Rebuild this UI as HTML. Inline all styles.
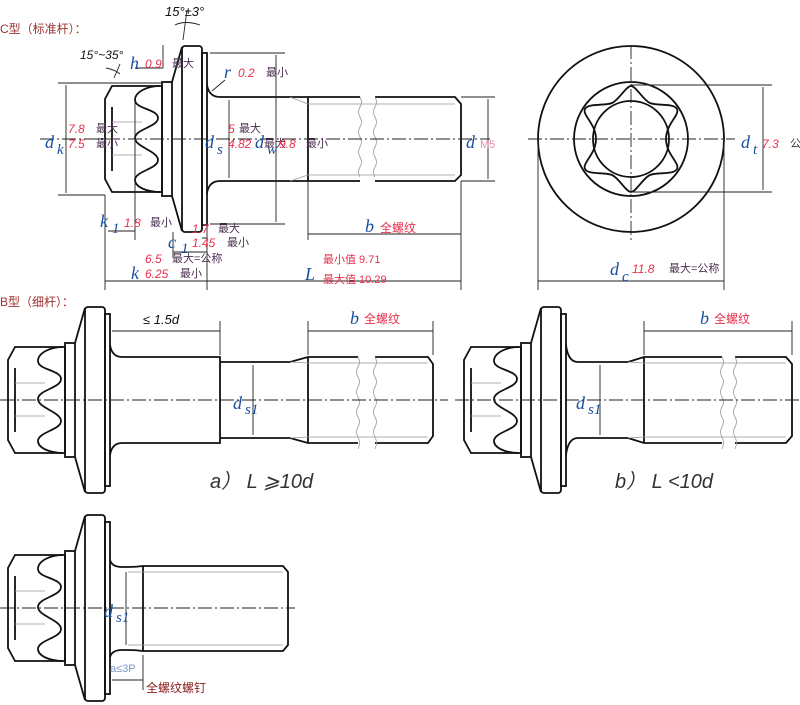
<!DOCTYPE html>
<html><head><meta charset="utf-8"><style>
html,body{margin:0;padding:0;background:#fff;}
svg{display:block;}
.o{fill:none;stroke:#111;stroke-width:1.8;}
.t{fill:none;stroke:#222;stroke-width:0.9;}
.g{fill:none;stroke:#999;stroke-width:0.8;}
.c{fill:none;stroke:#222;stroke-width:0.9;stroke-dasharray:14 3 2 3;}
.bl{font-family:"Liberation Serif",serif;font-style:italic;fill:#1a4fa0;font-size:18px;}
.sb{font-family:"Liberation Serif",serif;font-style:italic;fill:#1a4fa0;font-size:15px;}
.rd{font-family:"Liberation Sans",sans-serif;font-style:italic;fill:#e8304c;font-size:12px;}
.cn{font-family:"Liberation Sans","Noto Sans CJK SC",sans-serif;fill:#4a3050;font-size:11px;}
.cr{font-family:"Liberation Sans","Noto Sans CJK SC",sans-serif;fill:#e8304c;font-size:12px;}
.bk{font-family:"Liberation Sans",sans-serif;font-style:italic;fill:#111;font-size:13px;}
</style></head><body>
<svg width="800" height="705" viewBox="0 0 800 705" xmlns="http://www.w3.org/2000/svg">
<defs>
<g id="head">
<path class="o" d="M-70,-53 L-20,-53 L-20,53 L-70,53 L-77,40 L-77,-40 Z"/>
<rect class="o" x="-20" y="-57" width="10" height="114"/>
<path class="o" d="M-10,-57 L0,-92 M-10,57 L0,92"/>
<rect class="o" x="0" y="-93" width="20" height="186" rx="3"/>
<rect class="o" x="20" y="-86" width="5" height="172"/>
<path class="o" d="M-22,-53 C-35,-53 -47,-47 -47,-39 C-47,-30 -24,-30 -24,-21 C-24,-12 -47,-10 -47,-1 C-47,8 -24,12 -24,21 C-24,30 -47,32 -47,41 C-47,48 -35,53 -22,53"/>
<path class="o" d="M-70,-32 L-70,32"/>
<path class="g" d="M-70,-17 L-40,-17 M-70,16 L-40,16"/>
</g>
</defs>

<text x="0" y="33" style="font-family:'Liberation Sans','Noto Sans CJK SC',sans-serif;font-size:12px;fill:#a03030">C型（标准杆）：</text>
<use href="#head" x="182" y="139"/>
<path class="o" d="M207,85 Q209,97 220,97 L360,97 M375,97 L455,97 L461,104 L461,175 L455,181 L375,181 M360,181 L220,181 Q209,181 207,193"/>
<path class="o" d="M308,97 L308,181"/>
<path class="g" d="M360,97 q3,5 0,10 q-3,5 0,10 q3,5 0,10 q-3,5 0,10 q3,5 0,10 q-3,5 0,10 q3,5 0,10 q-3,5 0,10 M375,97 q3,5 0,10 q-3,5 0,10 q3,5 0,10 q-3,5 0,10 q3,5 0,10 q-3,5 0,10 q3,5 0,10 q-3,5 0,10"/>
<path class="g" d="M308,104 L455,104 M308,175 L455,175 M290,97 L308,104 M290,181 L308,175"/>
<path class="c" d="M40,139 L490,139"/>
<path class="t" d="M58,83 L163,83 M58,195 L105,195 M66,85 L66,193"/>
<path class="t" d="M210,53 L285,53 M210,224 L285,224 M276,55 L276,222"/>
<path class="t" d="M229,100 L229,178"/>
<path class="t" d="M461,97 L495,97 M461,181 L495,181 M488,99 L488,179"/>
<path class="t" d="M105,195 L105,290 M207,195 L207,290 M308,181 L308,240 M461,181 L461,290 M135,100 L135,240"/>
<path class="t" d="M105,281 L461,281 M308,234 L461,234 M108,231 L135,231 M135,68 L163,68 M163,68 L163,45 M173,232 L173,258 M202,238 L207,238 M225,80 L212,91"/>
<path class="t" d="M173,252 L207,252"/>
<path class="t" d="M120,64 L114,78 M106,68 Q116,70 120,74 M183,40 L187,10 M175,25 Q185,20 200,25"/>
<text x="80" y="59" class="bk" style="font-size:12px">15°~35°</text>
<text x="165" y="16" class="bk">15°±3°</text>
<text x="130" y="69" class="bl">h</text><text x="145" y="68" class="rd">0.9</text><text x="172" y="67" class="cn">最大</text>
<text x="224" y="78" class="bl">r</text><text x="238" y="77" class="rd">0.2</text><text x="266" y="76" class="cn">最小</text>
<text x="45" y="148" class="bl">d</text><text x="57" y="154" class="sb">k</text>
<text x="68" y="133" class="rd">7.8</text><text x="96" y="132" class="cn">最大</text>
<text x="68" y="148" class="rd">7.5</text><text x="96" y="147" class="cn">最小</text>
<text x="205" y="148" class="bl">d</text><text x="217" y="154" class="sb">s</text>
<text x="228" y="133" class="rd">5</text><text x="239" y="132" class="cn">最大</text>
<text x="228" y="148" class="rd">4.82</text>
<text x="255" y="148" class="bl">d</text><text x="267" y="154" class="sb">w</text>
<text x="264" y="147" class="cn">最大</text><text x="279" y="148" class="rd">9.8</text><text x="306" y="147" class="cn">最小</text>
<text x="466" y="148" class="bl">d</text><text x="480" y="148" style="font-family:'Liberation Sans',sans-serif;font-size:11px;fill:#e88ca0">M5</text>
<text x="100" y="227" class="bl">k</text><text x="112" y="233" class="sb">1</text><text x="124" y="227" class="rd">1.8</text><text x="150" y="226" class="cn">最小</text>
<text x="192" y="233" class="rd">1.7</text><text x="218" y="232" class="cn">最大</text>
<text x="168" y="248" class="bl">c</text><text x="181" y="253" class="sb">1</text><text x="192" y="247" class="rd">1.45</text><text x="227" y="246" class="cn">最小</text>
<text x="145" y="263" class="rd">6.5</text><text x="172" y="262" class="cn">最大=公称</text>
<text x="131" y="279" class="bl">k</text><text x="145" y="278" class="rd">6.25</text><text x="180" y="277" class="cn">最小</text>
<text x="305" y="280" class="bl">L</text>
<text x="323" y="263" class="cr" style="font-size:11px">最小值 9.71</text>
<text x="323" y="283" class="cr" style="font-size:11px">最大值 10.29</text>
<text x="365" y="232" class="bl">b</text><text x="380" y="232" class="cr">全螺纹</text>

<circle class="o" cx="631" cy="139" r="93"/>
<circle class="o" cx="631" cy="139" r="57"/>
<circle class="o" cx="631" cy="139" r="38"/>
<path class="o" d="M631,86 C636,86 643,100 650,103 C657,106 674,103 677,109 C680,115 666,124 666,139 C666,154 680,163 677,169 C674,175 657,172 650,175 C643,178 636,192 631,192 C626,192 619,178 612,175 C605,172 588,175 585,169 C582,163 596,154 596,139 C596,124 582,115 585,109 C588,103 605,106 612,103 C619,100 626,86 631,86 Z"/>
<path class="c" d="M528,139 L735,139 M631,45 L631,240"/>
<path class="t" d="M631,85 L772,85 M631,192 L772,192 M763,87 L763,190"/>
<path class="t" d="M538,139 L538,290 M724,139 L724,290 M538,281 L724,281"/>
<text x="741" y="148" class="bl">d</text><text x="753" y="154" class="sb">t</text><text x="762" y="148" class="rd">7.3</text><text x="790" y="147" class="cn">公</text>
<text x="610" y="275" class="bl">d</text><text x="622" y="281" class="sb">c</text><text x="632" y="273" class="rd">11.8</text><text x="669" y="272" class="cn">最大=公称</text>

<text x="0" y="306" style="font-family:'Liberation Sans','Noto Sans CJK SC',sans-serif;font-size:12px;fill:#a03030">B型（细杆）：</text>
<use href="#head" x="85" y="400"/>
<path class="o" d="M110,345 Q112,357 122,357 L220,357 L220,443 L122,443 Q112,443 110,455"/>
<path class="o" d="M220,362 L290,362 L308,357 L358,357 M375,357 L428,357 L433,364 L433,436 L428,443 L375,443 M358,443 L308,443 L290,438 L220,438 M308,357 L308,443"/>
<path class="g" d="M308,363 L428,363 M308,437 L428,437 M290,362 L308,363 M290,438 L308,437"/>
<path class="g" d="M358,357 q3,5 0,10 q-3,5 0,10 q3,5 0,10 q-3,5 0,10 q3,5 0,10 q-3,5 0,10 q3,5 0,10 q-3,5 0,10 q3,6 0,12 M375,357 q3,5 0,10 q-3,5 0,10 q3,5 0,10 q-3,5 0,10 q3,5 0,10 q-3,5 0,10 q3,5 0,10 q-3,5 0,10 q3,6 0,12"/>
<path class="c" d="M0,400 L448,400"/>
<path class="t" d="M112,331 L220,331 M220,321 L220,355 M308,321 L308,355 M433,321 L433,355 M308,331 L433,331 M253,365 L253,435"/>
<text x="143" y="324" class="bk" style="font-size:13px">≤ 1.5d</text>
<text x="350" y="324" class="bl">b</text><text x="364" y="323" class="cr">全螺纹</text>
<text x="233" y="409" class="bl">d</text><text x="245" y="414" class="sb">s1</text>
<text x="210" y="488" style="font-family:'Liberation Sans','Noto Sans CJK SC',sans-serif;font-style:italic;font-size:20px;fill:#333">a） L ⩾10d</text>
<use href="#head" x="541" y="400"/>
<path class="o" d="M566,345 Q568,362 578,362 L628,362 L644,357 L722,357 M735,357 L786,357 L792,364 L792,436 L786,443 L735,443 M722,443 L644,443 L628,438 L578,438 Q568,438 566,455 M644,357 L644,443"/>
<path class="g" d="M644,363 L786,363 M644,437 L786,437 M628,362 L644,363 M628,438 L644,437"/>
<path class="g" d="M722,357 q3,5 0,10 q-3,5 0,10 q3,5 0,10 q-3,5 0,10 q3,5 0,10 q-3,5 0,10 q3,5 0,10 q-3,5 0,10 q3,6 0,12 M735,357 q3,5 0,10 q-3,5 0,10 q3,5 0,10 q-3,5 0,10 q3,5 0,10 q-3,5 0,10 q3,5 0,10 q-3,5 0,10 q3,6 0,12"/>
<path class="c" d="M455,400 L800,400"/>
<path class="t" d="M644,321 L644,355 M792,321 L792,355 M644,331 L792,331 M600,365 L600,435"/>
<text x="700" y="324" class="bl">b</text><text x="714" y="323" class="cr">全螺纹</text>
<text x="576" y="409" class="bl">d</text><text x="588" y="414" class="sb">s1</text>
<text x="615" y="488" style="font-family:'Liberation Sans','Noto Sans CJK SC',sans-serif;font-style:italic;font-size:20px;fill:#333">b） L &lt;10d</text>

<use href="#head" x="85" y="608"/>
<path class="o" d="M110,560 Q112,567 122,567 L128,567 Q136,567 143,566 L283,566 L288,572 L288,645 L283,651 L143,651 Q136,650 128,650 L122,650 Q112,650 110,657 M143,566 L143,651"/>
<path class="g" d="M128,572 L143,572 M128,645 L143,645 M143,572 L283,572 M143,645 L283,645"/>
<path class="c" d="M0,608 L295,608"/>
<path class="t" d="M126,572 L126,645 M143,655 L143,690 M112,680 L143,680"/>
<text x="104" y="617" class="bl">d</text><text x="116" y="622" class="sb">s1</text>
<text x="110" y="672" style="font-family:'Liberation Sans',sans-serif;font-size:11px;fill:#7f98c8">a≤3P</text>
<text x="146" y="692" style="font-family:'Liberation Sans','Noto Sans CJK SC',sans-serif;font-size:12px;fill:#8a1c1c">全螺纹螺钉</text>
</svg>
</body></html>
